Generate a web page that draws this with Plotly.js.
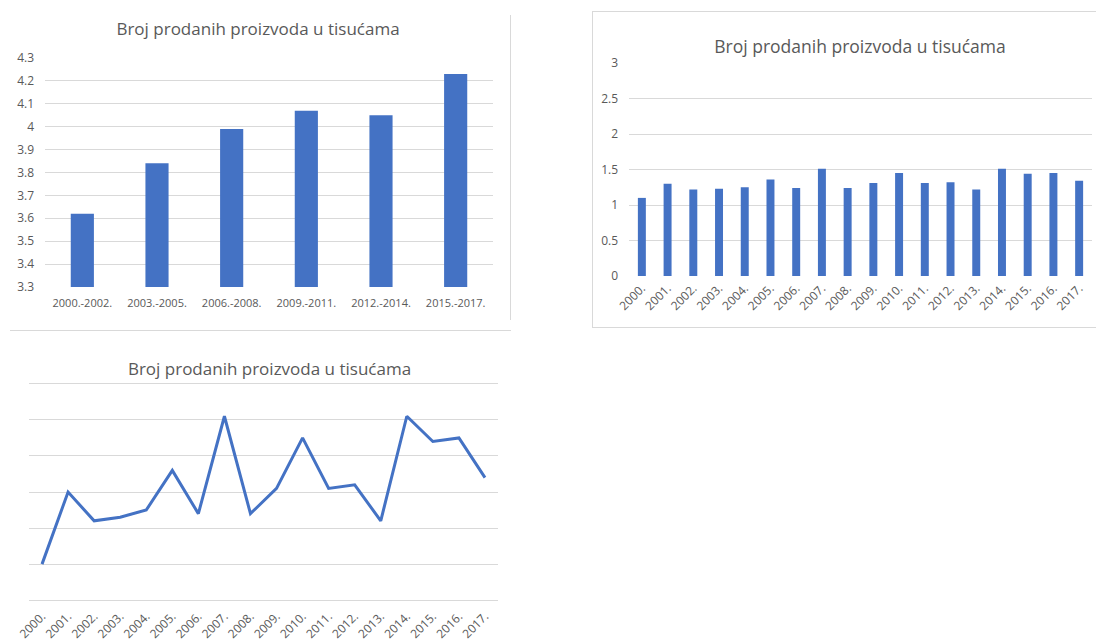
<!DOCTYPE html>
<html>
<head>
<meta charset="utf-8">
<script src="https://cdn.plot.ly/plotly-3.0.1.min.js"></script>
<style>
  html, body { margin:0; padding:0; background:#fff; width:1096px; height:641px; overflow:hidden; }
  .chart { position:absolute; }
  .frame { position:absolute; border-color:#d9d9d9; border-style:solid; border-width:0; }
</style>
</head>
<body>
<div class="frame" style="left:10px; top:330px; width:501px; height:0; border-top-width:1px;"></div>
<div class="frame" style="left:510px; top:15px; width:0; height:305px; border-left-width:1px;"></div>
<div class="frame" style="left:592px; top:11px; width:510px; height:315px; border-width:1px 0 1px 1px;"></div>
<div id="c1" class="chart" style="left:0; top:0; width:510px; height:331px;"></div>
<div id="c2" class="chart" style="left:593px; top:12px; width:503px; height:314px;"></div>
<div id="c3" class="chart" style="left:0; top:340px; width:540px; height:301px;"></div>
<script>
// ---- data ----
const titleText = 'Broj prodanih proizvoda u tisućama';
const periods = ['2000.-2002.', '2003.-2005.', '2006.-2008.', '2009.-2011.', '2012.-2014.', '2015.-2017.'];
const periodValues = [3.62, 3.84, 3.99, 4.07, 4.05, 4.23];
const years = ['2000.', '2001.', '2002.', '2003.', '2004.', '2005.', '2006.', '2007.', '2008.',
               '2009.', '2010.', '2011.', '2012.', '2013.', '2014.', '2015.', '2016.', '2017.'];
const yearValues = [1.10, 1.30, 1.22, 1.23, 1.25, 1.36, 1.24, 1.51, 1.24,
                    1.31, 1.45, 1.31, 1.32, 1.22, 1.51, 1.44, 1.45, 1.34];
const lineGridValues = [1.0, 1.1, 1.2, 1.3, 1.4, 1.5, 1.6];

// ---- styles ----
const BLUE = '#4472C4';
const TXT = '#595959';
const GRID = '#d9d9d9';
const FONT = 'Open Sans, Noto Sans, sans-serif';
const cfg = {displayModeBar:false, staticPlot:true};

function titleObj(x, y, size) {
  return {text: titleText, font:{family:FONT, size:size, color:TXT},
          xref:'container', yref:'container', x:x, y:y, xanchor:'center', yanchor:'middle'};
}

// Chart 1: grouped periods
Plotly.newPlot('c1', [{
  type:'bar', x:periods, y:periodValues, marker:{color:BLUE}, hoverinfo:'none'
}], {
  width:510, height:331,
  margin:{l:45, r:17, t:58, b:44},
  paper_bgcolor:'rgba(0,0,0,0)', plot_bgcolor:'#fff',
  bargap:0.69, showlegend:false,
  title:titleObj(258/510, 1 - 29/331, 17),
  xaxis:{type:'category', showgrid:false, zeroline:false, showline:false, ticks:'',
         tickfont:{family:FONT, size:11, color:TXT}, ticklabelstandoff:8},
  yaxis:{range:[3.2999, 4.3001], dtick:0.1, tick0:3.3, gridcolor:GRID, gridwidth:1, zeroline:false,
         showline:false, ticks:'', tickfont:{family:FONT, size:12, color:TXT},
         ticklabelstandoff:10}
}, cfg);

// Chart 2: yearly bars
Plotly.newPlot('c2', [{
  type:'bar', x:years, y:yearValues, marker:{color:BLUE}, hoverinfo:'none'
}], {
  width:503, height:314,
  margin:{l:36, r:4, t:51, b:50},
  paper_bgcolor:'rgba(0,0,0,0)', plot_bgcolor:'#fff',
  bargap:0.69, showlegend:false,
  title:titleObj((860-593)/503, 1 - (47-12)/314, 17.5),
  xaxis:{type:'category', showgrid:false, zeroline:false, showline:false, ticks:'',
         tickangle:-45, tickfont:{family:FONT, size:12, color:TXT}, ticklabelstandoff:2},
  yaxis:{range:[0, 3.0001], dtick:0.5, gridcolor:GRID, gridwidth:1, zeroline:false,
         showline:false, ticks:'', tickfont:{family:FONT, size:12, color:TXT},
         ticklabelstandoff:10}
}, cfg);

// Chart 3: yearly line (value axis hidden, gridlines 1.0 - 1.6)
Plotly.newPlot('c3', [{
  type:'scatter', mode:'lines', x:years, y:yearValues,
  line:{color:BLUE, width:3}, hoverinfo:'none'
}], {
  width:540, height:301,
  margin:{l:29, r:42, t:42, b:39},
  paper_bgcolor:'rgba(0,0,0,0)', plot_bgcolor:'#fff',
  showlegend:false,
  title:titleObj(269.5/540, 1 - 29/301, 17),
  xaxis:{type:'category', range:[-0.5, 17.5], showgrid:false, zeroline:false, showline:false, ticks:'',
         tickangle:-45, tickfont:{family:FONT, size:12, color:TXT}, ticklabelstandoff:4},
  yaxis:{range:[0.995, 1.605], tickmode:'array', tickvals:lineGridValues,
         gridcolor:GRID, gridwidth:1, zeroline:false,
         showline:false, ticks:'', showticklabels:false}
}, cfg);
</script>
</body>
</html>
